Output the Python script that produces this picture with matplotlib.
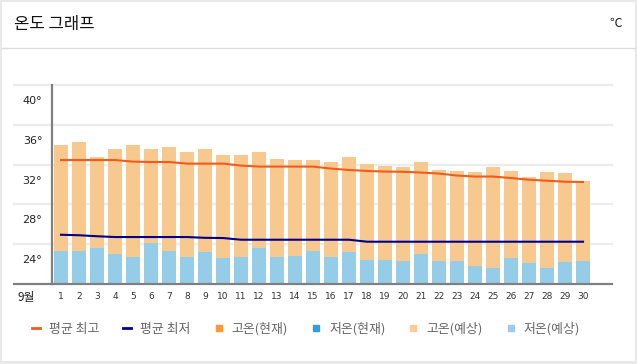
import matplotlib
matplotlib.use("Agg")
import matplotlib.pyplot as plt
from matplotlib.lines import Line2D

plt.rcParams['font.family'] = ['Noto Sans CJK KR', 'DejaVu Sans']

# 9월 일자별 데이터
days = list(range(1, 31))
high_pred = [34.0, 34.3, 32.8, 33.6, 34.0, 33.6, 33.8, 33.3, 33.6, 33.0,
             33.0, 33.3, 32.6, 32.5, 32.5, 32.3, 32.8, 32.1, 31.9, 31.8,
             32.3, 31.5, 31.4, 31.3, 31.8, 31.4, 30.8, 31.3, 31.2, 30.4]
low_pred = [23.3, 23.3, 23.6, 23.0, 22.7, 24.1, 23.3, 22.7, 23.2, 22.6,
            22.7, 23.6, 22.7, 22.8, 23.3, 22.7, 23.2, 22.4, 22.4, 22.3,
            23.0, 22.3, 22.3, 21.8, 21.6, 22.6, 22.1, 21.6, 22.2, 22.3]
avg_high = [32.46, 32.46, 32.46, 32.46, 32.3, 32.26, 32.26, 32.1, 32.1, 32.1,
            31.9, 31.8, 31.8, 31.8, 31.8, 31.6, 31.46, 31.36, 31.3, 31.28,
            31.2, 31.1, 30.9, 30.8, 30.8, 30.65, 30.48, 30.38, 30.28, 30.25]
avg_low = [24.95, 24.9, 24.8, 24.72, 24.72, 24.72, 24.72, 24.72, 24.64, 24.62,
           24.45, 24.45, 24.45, 24.45, 24.45, 24.45, 24.45, 24.25, 24.25, 24.25,
           24.25, 24.25, 24.25, 24.25, 24.25, 24.25, 24.25, 24.25, 24.25, 24.25]
grid_vals = [24, 28, 32, 36, 40]
ytick_labels = ['24°', '28°', '32°', '36°', '40°']
legend_labels = ['평균 최고', '평균 최저', '고온(현재)', '저온(현재)', '고온(예상)', '저온(예상)']

W, H = 637, 364
fig = plt.figure(figsize=(W / 100, H / 100), dpi=100)
fig.patch.set_facecolor('#e9e9e9')

# 흰색 패널
panel = fig.add_axes([2 / W, 3 / H, 633 / W, 359 / H])
panel.set_facecolor('white')
panel.set_xticks([])
panel.set_yticks([])
for s in panel.spines.values():
    s.set_visible(False)

fig.text(14 / W, 1 - 25 / H, '온도 그래프', fontsize=12, color='#111111', va='center', ha='left')
fig.text(622 / W, 1 - 23 / H, '℃', fontsize=9, color='#222222', va='center', ha='right')
fig.add_artist(Line2D([2 / W, 635 / W], [1 - 48 / H, 1 - 48 / H], color='#dddddd', lw=1))

ax = fig.add_axes([52 / W, 1 - 284 / H, 560 / W, 199 / H])
ax.set_xlim(0.5, 31.61)
ax.set_ylim(20, 40)
ax.patch.set_alpha(0)

# 가로 격자선 (왼쪽 라벨 영역까지)
for g in grid_vals:
    ax.axhline(g, xmin=-38 / 560, xmax=1, color='#ececec', lw=1.6, clip_on=False, zorder=0)

ax.bar(days, high_pred, width=0.78, bottom=0, color='#f8c98f', zorder=1)
ax.bar(days, low_pred, width=0.78, bottom=0, color='#95cde9', zorder=2)
ax.plot(days, avg_high, color='#f35b1c', lw=1.5, zorder=3)
ax.plot(days, avg_low, color='#00008c', lw=1.5, zorder=3)

ax.axhline(20, xmin=-38 / 560, xmax=1, color='#808080', lw=1.6, clip_on=False, zorder=4)
for s in ['top', 'right', 'bottom']:
    ax.spines[s].set_visible(False)
ax.spines['left'].set_color('#808080')
ax.spines['left'].set_linewidth(1.6)

ax.set_yticks([g - 1.5 for g in grid_vals])
ax.set_yticklabels(ytick_labels, fontsize=8, color='#222222', family=['DejaVu Sans'])
ax.set_xticks(days)
ax.set_xticklabels([str(d) for d in days], fontsize=6.5, color='#333333', family=['DejaVu Sans'])
ax.tick_params(axis='y', length=0, pad=7)
ax.tick_params(axis='x', length=0, pad=6)

fig.text(26 / W, 1 - 297 / H, '9월', fontsize=8.5, color='#222222', va='center', ha='center')

handles = [
    Line2D([], [], color='#f35b1c', lw=2),
    Line2D([], [], color='#00008c', lw=2),
    Line2D([], [], color='#ff9933', marker='s', ls='none', markersize=5),
    Line2D([], [], color='#2fa0dc', marker='s', ls='none', markersize=5),
    Line2D([], [], color='#ffcc99', marker='s', ls='none', markersize=5),
    Line2D([], [], color='#99ccee', marker='s', ls='none', markersize=5),
]
leg = fig.legend(handles, legend_labels, ncol=6, loc='center left',
                 bbox_to_anchor=(32 / W, 1 - 329 / H), frameon=False,
                 fontsize=9.3, handlelength=0.62, handletextpad=0.7,
                 columnspacing=1.85, borderpad=0, borderaxespad=0)
for t in leg.get_texts():
    t.set_color('#666666')

fig.savefig('out.png', dpi=100, facecolor=fig.get_facecolor())
